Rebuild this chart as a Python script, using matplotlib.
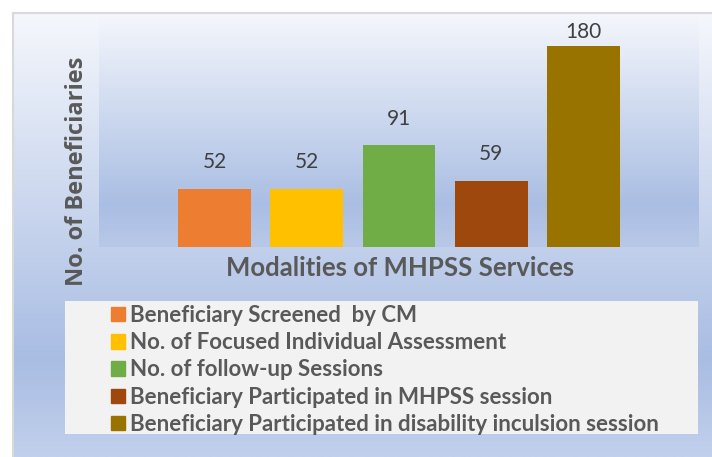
import matplotlib
matplotlib.use('Agg')
import matplotlib.pyplot as plt
import numpy as np
from matplotlib.colors import LinearSegmentedColormap
from matplotlib.patches import Rectangle

# data
CATEGORIES = ['Beneficiary Screened  by CM',
              'No. of Focused Individual Assessment',
              'No. of follow-up Sessions',
              'Beneficiary Participated in MHPSS session',
              'Beneficiary Participated in disability inculsion session']
VALUES = [52, 52, 91, 59, 180]
COLORS = ['#ed7d31', '#ffc000', '#70ad47', '#9e480e', '#997300']

W, H = 712, 457
FONT = 'Lato'


def box(x0, y0, x1, y1):
    # pixel box (top-left origin) -> figure fraction rect
    return [x0 / W, 1 - y1 / H, (x1 - x0) / W, (y1 - y0) / H]


def gradient(ax, stops):
    cmap = LinearSegmentedColormap.from_list('g', stops)
    grad = np.linspace(0, 1, 256).reshape(-1, 1)
    ax.imshow(grad, aspect='auto', cmap=cmap, extent=[0, 1, 1, 0])
    ax.set_axis_off()


fig = plt.figure(figsize=(W / 100, H / 100), dpi=100)
fig.patch.set_facecolor('white')

# chart area background
chart_bg = fig.add_axes(box(13, 13, W, H))
gradient(chart_bg, [(0, '#f5f7fc'), (0.78, '#a9bde3'), (1, '#c1d0ec')])
fig.add_artist(plt.Line2D([13 / W, 13 / W], [0, 1 - 13 / H], color='#d9d9d9', lw=1.5))
fig.add_artist(plt.Line2D([13 / W, 1], [1 - 13 / H, 1 - 13 / H], color='#d9d9d9', lw=1.5))

# plot area background
plot_bg = fig.add_axes(box(99, 13, 699, 247))
gradient(plot_bg, [(0, '#f5f7fc'), (0.82, '#aabee3'), (1, '#b8c8e8')])

# bars
ax = fig.add_axes(box(99, 13, 699, 247))
ax.patch.set_alpha(0)
x = np.arange(len(VALUES))
bars = ax.bar(x, VALUES, width=0.79, color=COLORS)
ax.set_xlim(-1.252, 5.252)
ax.set_ylim(0, 209.5)
for xi, v in zip(x, VALUES):
    # labels stay inside the plot area, like Excel does
    ax.text(xi, min(v + 24, 192.5), str(v), ha='center', va='center', fontsize=15,
            color='#404040', family=FONT)
for s in ax.spines.values():
    s.set_visible(False)
ax.set_xticks([])
ax.set_yticks([])

fig.text(400 / W, 1 - 268 / H, 'Modalities of MHPSS Services', ha='center', va='center',
         fontsize=18.5, fontweight='bold', color='#595959', family=FONT)
fig.text(77 / W, 1 - 171 / H, 'No. of Beneficiaries', ha='center', va='center', rotation=90,
         fontsize=17, fontweight='bold', color='#595959', family='Open Sans')

# legend
fig.add_artist(Rectangle((65 / W, 1 - 434 / H), (698 - 65) / W, (434 - 301) / H,
                         transform=fig.transFigure, facecolor='#f2f2f2', edgecolor='none'))
handles = [Rectangle((0, 0), 1, 1, color=c) for c in COLORS]
fig.legend(handles, CATEGORIES, loc='upper left', bbox_to_anchor=(111 / W, 1 - 305 / H),
           frameon=False, prop={'family': FONT, 'weight': 'bold', 'size': 16},
           labelcolor='#595959', handlelength=0.63, handleheight=0.63,
           handletextpad=0.23, labelspacing=0.28, borderpad=0, borderaxespad=0)

fig.savefig('out.png', dpi=100)
